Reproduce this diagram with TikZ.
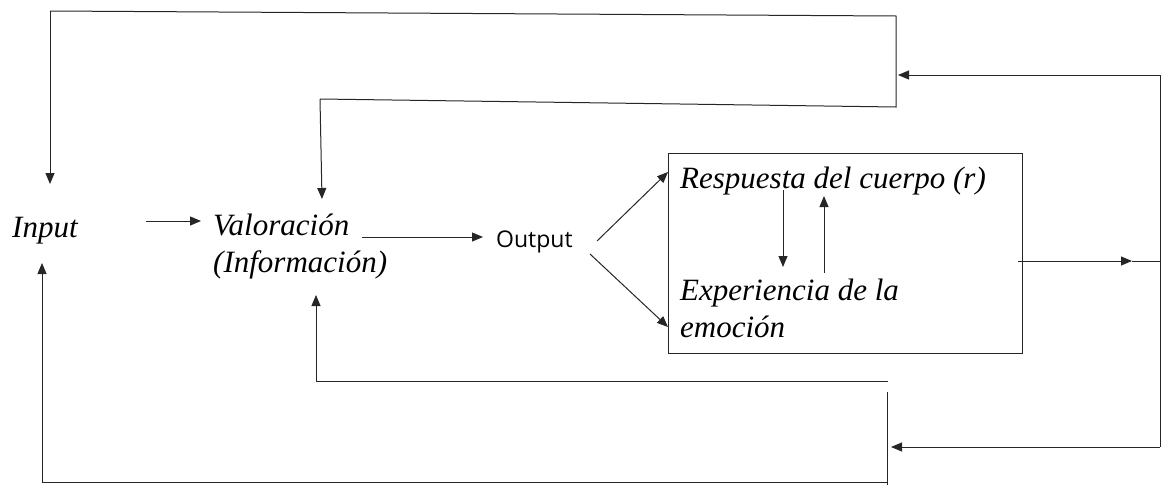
\documentclass[tikz,border=0pt]{standalone}
\usepackage{fontspec}
\setmainfont{Liberation Serif}
\newfontfamily\outfont{Open Sans}
\usetikzlibrary{arrows.meta}
\begin{document}
\begin{tikzpicture}[x=1pt,y=-1pt,
  lbl/.style={inner sep=0pt,anchor=base west,font=\fontsize{31}{37}\selectfont\itshape},
  olbl/.style={inner sep=0pt,anchor=base west,font=\fontsize{23}{28}\selectfont\outfont},
  ln/.style={line width=1pt,draw=black!85},
  arr/.style={ln,-{Triangle[length=11pt,width=9pt]}}]
\useasboundingbox (0,0) rectangle (1167,485);
% nodes
\node[lbl] (input) at (12,237) {Input};
\node[lbl] (val1) at (213,235) {Valoración};
\node[lbl] (val2) at (213,272) {(Información)};
\node[olbl] (out) at (496,247) {Output};
\node[draw=black!85,line width=1.1pt,inner sep=0pt,minimum width=354pt,minimum height=200pt,anchor=north west] (box) at (668,153) {};
\node[lbl] (resp) at (680,188) {Respuesta del cuerpo (r)};
\node[lbl] (exp) at (680,300) {Experiencia de la};
\node[lbl] (emo) at (680,337) {emoción};
% coordinates
\coordinate (a1) at (146,221);
\coordinate (a2) at (201,221);
\coordinate (b1) at (362,237);
\coordinate (b2) at (483,237);
\coordinate (o1) at (597,241);
\coordinate (o2) at (668,172);
\coordinate (o3) at (590,254);
\coordinate (o4) at (668,327);
\coordinate (d1) at (783,190);
\coordinate (d2) at (783,267);
\coordinate (u1) at (824,273);
\coordinate (u2) at (824,196);
\coordinate (r1) at (1018,261);
\coordinate (r2) at (1132,261);
\coordinate (r3) at (1160,261);
\coordinate (rt) at (1160,75);
\coordinate (rb) at (1160,447);
\coordinate (ta) at (898,75);
\coordinate (ba) at (891,447);
\coordinate (t2) at (896,16);
\coordinate (t3) at (896,107);
\coordinate (t4) at (320,99);
\coordinate (inT) at (50,184);
\coordinate (t0) at (50,11);
\coordinate (vT) at (322,199);
\coordinate (vB) at (316,295);
\coordinate (m1) at (316,381);
\coordinate (m2) at (888,381);
\coordinate (n1) at (887,392);
\coordinate (n2) at (887,485);
\coordinate (q1) at (887,482);
\coordinate (q2) at (42,482);
\coordinate (inB) at (42,263);
% connectors
\draw[arr] (a1) -- (a2);
\draw[arr] (b1) -- (b2);
\draw[arr] (o1) -- (o2);
\draw[arr] (o3) -- (o4);
\draw[arr] (d1) -- (d2);
\draw[arr] (u1) -- (u2);
\draw[arr] (r1) -- (r2);
\draw[ln] (r2) -- (r3);
\draw[arr] (rt) -- (ta);
\draw[ln] (rt) -- (rb);
\draw[arr] (rb) -- (ba);
\draw[ln] (t0) -- (t2) -- (t3) -- (t4);
\draw[arr] (t0) -- (inT);
\draw[arr] (t4) -- (vT);
\draw[arr] (m2) -- (m1) -- (vB);
\draw[ln] (n1) -- (n2);
\draw[arr] (q1) -- (q2) -- (inB);
\end{tikzpicture}
\end{document}
